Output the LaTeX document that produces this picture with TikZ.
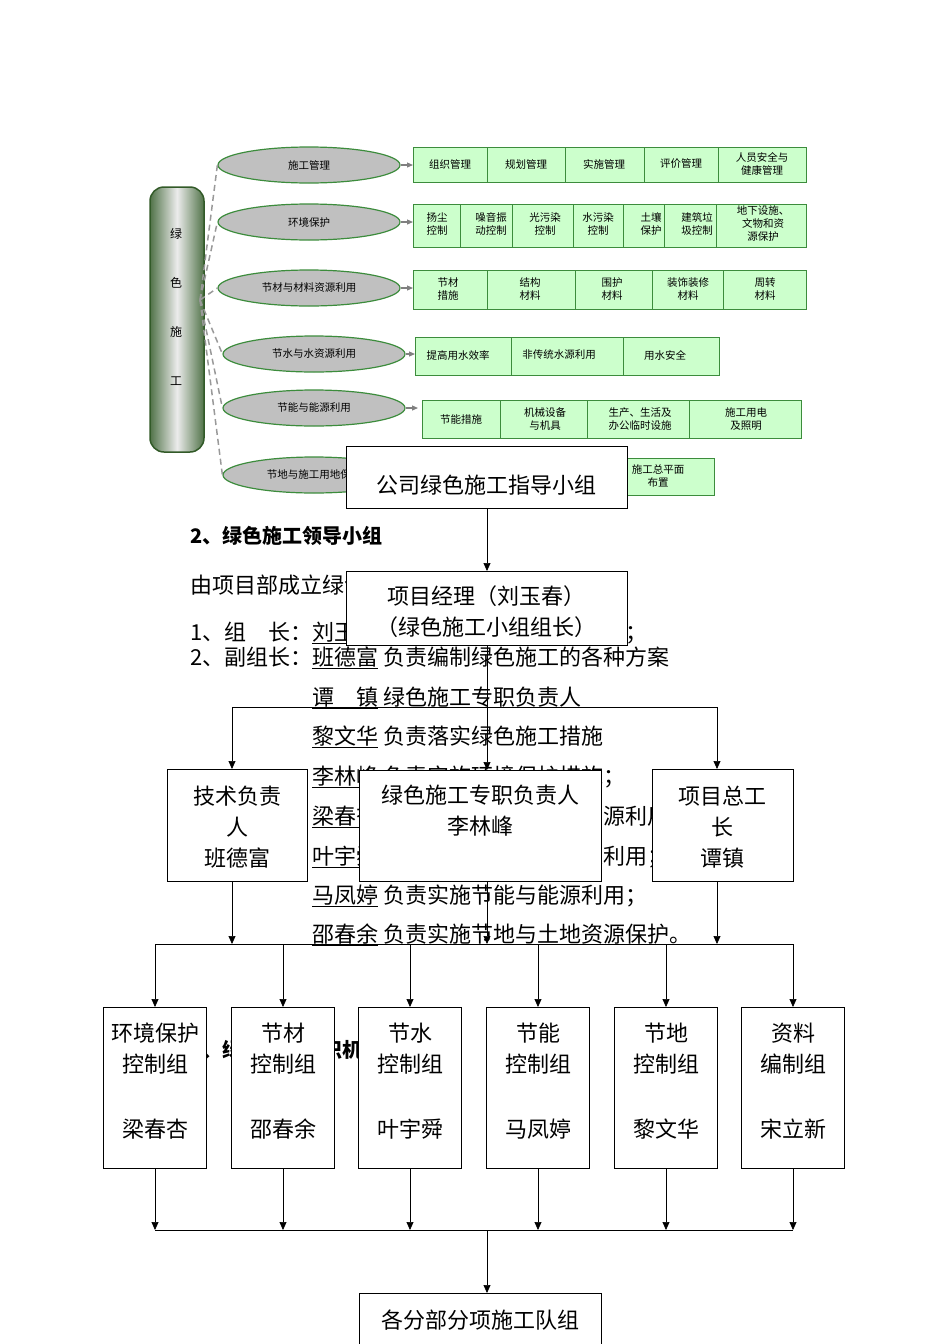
\documentclass[tikz,border=0pt]{standalone}
\usepackage{fontspec}
\setmainfont{Noto Sans CJK SC}
\usetikzlibrary{arrows.meta,shapes.geometric}
\definecolor{gbox}{RGB}{204,255,204}
\definecolor{gline}{RGB}{60,140,60}
\definecolor{dk}{RGB}{50,90,40}
\definecolor{ell}{RGB}{192,192,192}
\tikzset{
 sm/.style={font=\fontsize{10.5}{13}\selectfont,align=center,inner sep=0pt},
 big/.style={font=\fontsize{22}{31}\selectfont,align=center,inner sep=0pt},
 para/.style={font=\fontsize{22}{24}\selectfont,anchor=west,inner sep=0pt},
 wbox/.style={draw=black,fill=white,line width=0.8pt},
 gb/.style={draw=gline,fill=gbox,line width=0.8pt},
 el/.style={ellipse,draw=gline,fill=ell,line width=1.2pt,minimum width=182pt,minimum height=36pt,font=\fontsize{10.5}{12}\selectfont,inner sep=0pt},
 arr/.style={-{Triangle[length=8pt,width=7pt]},line width=0.7pt},
 garr/.style={-{Triangle[length=6pt,width=5pt]},draw=gray,line width=1.2pt},
 dsh/.style={draw=gray!80,line width=1.5pt,dash pattern=on 6pt off 4pt},
}
\begin{document}
\begin{tikzpicture}[x=1pt,y=-1pt]
\useasboundingbox (0,0) rectangle (950,1344);
% ===== top part =====
\shade[draw=dk,line width=1.5pt,rounded corners=14pt,left color=dk!85,right color=dk!85,middle color=white!85!gray] (150,187) rectangle (204,452);
\foreach \y/\t in {234/绿,283/色,332/施,381/工}
  \node[sm,font=\fontsize{12}{14}\selectfont] at (176,\y) {\t};
\coordinate (pc) at (200,300);
\foreach \n/\x/\y/\t in {e1/309/165/施工管理, e2/309/222/环境保护, e3/309/288/节材与材料资源利用, e4/314/354/节水与水资源利用, e5/314/408/节能与能源利用, e6/314/475/节地与施工用地保护}{
  \node[el] (\n) at (\x,\y) {\t};
  \draw[dsh] (pc) -- (\n.west);
}
\draw[gb] (413,147) rectangle (806,182);
\foreach \x in {487,565,644,718} \draw[gline,line width=0.8pt] (\x,147)--(\x,182);
\node[sm] at (450,164) {组织管理};
\node[sm] at (526,164) {规划管理};
\node[sm] at (604,164) {实施管理};
\node[sm] at (681,164) {评价管理};
\node[sm] at (762,164) {人员安全与\\健康管理};
\draw[gb] (413,204) rectangle (806,247);
\foreach \x in {460,512,573,623,664,716} \draw[gline,line width=0.8pt] (\x,204)--(\x,247);
\node[sm] at (437,224) {扬尘\\控制};
\node[sm] at (491,224) {噪音振\\动控制};
\node[sm] at (545,224) {光污染\\控制};
\node[sm] at (598,224) {水污染\\控制};
\node[sm] at (651,224) {土壤\\保护};
\node[sm] at (697,224) {建筑垃\\圾控制};
\node[sm] at (763,224) {地下设施、\\文物和资\\源保护};
\draw[gb] (413,270) rectangle (806,309);
\foreach \x in {487,575,652,723} \draw[gline,line width=0.8pt] (\x,270)--(\x,309);
\node[sm] at (448,289) {节材\\措施};
\node[sm] at (530,289) {结构\\材料};
\node[sm] at (612,289) {围护\\材料};
\node[sm] at (688,289) {装饰装修\\材料};
\node[sm] at (765,289) {周转\\材料};
\draw[gb] (415,337) rectangle (719,375);
\foreach \x in {511,623} \draw[gline,line width=0.8pt] (\x,337)--(\x,375);
\node[sm] at (458,355) {提高用水效率};
\node[sm] at (559,355) {非传统水源利用};
\node[sm] at (665,355) {用水安全};
\draw[gb] (422,400) rectangle (801,438);
\foreach \x in {500,587,689} \draw[gline,line width=0.8pt] (\x,400)--(\x,438);
\node[sm] at (461,419) {节能措施};
\node[sm] at (545,419) {机械设备\\与机具};
\node[sm] at (640,419) {生产、生活及\\办公临时设施};
\node[sm] at (746,419) {施工用电\\及照明};
\draw[gb] (560,458) rectangle (714,495);
\node[sm] at (658,476) {施工总平面\\布置};
\coordinate (r1) at (413,165); \coordinate (r2) at (413,222); \coordinate (r3) at (413,288);
\coordinate (r4) at (415,354); \coordinate (r5) at (418,408);
\draw[garr] (e1.east) -- (r1);
\draw[garr] (e2.east) -- (r2);
\draw[garr] (e3.east) -- (r3);
\draw[garr] (e4.east) -- (r4);
\draw[garr] (e5.east) -- (r5);
% ===== background text =====
\node[para,font=\fontsize{20}{22}\selectfont\bfseries] at (190,536) {2、绿色施工领导小组};
\node[para] at (190,585) {由项目部成立绿色施工领导小组};
\node[para] at (190,633) {1、组\hspace{1em}长：\underline{刘玉春}\ 负责绿色施工的全面工作；};
\node[para] at (190,658) {2、副组长：\underline{班德富}\ 负责编制绿色施工的各种方案};
\node[para] at (312,698) {\underline{谭\hspace{1em}镇}\ 绿色施工专职负责人};
\node[para] at (312,737) {\underline{黎文华}\ 负责落实绿色施工措施};
\node[para] at (312,777) {\underline{李林峰}\ 负责实施环境保护措施；};
\node[para] at (312,817) {\underline{梁春杏}\ 负责实施节材与材料资源利用；};
\node[para] at (312,857) {\underline{叶宇舜}\ 负责实施节水与水资源利用；};
\node[para] at (312,896) {\underline{马凤婷}\ 负责实施节能与能源利用；};
\node[para] at (312,935) {\underline{邵春余}\ 负责实施节地与土地资源保护。};
\node[para,font=\fontsize{20}{22}\selectfont\bfseries] at (190,1050) {3、绿色施工组织机构};
% ===== org chart =====
\draw[wbox] (346,446) rectangle (627,508);
\node[big] (co) at (486.5,485) {公司绿色施工指导小组};
\coordinate (coB) at (487,508);
\draw[wbox] (346,571) rectangle (627,645);
\node[big] (pm) at (486.5,612) {项目经理（刘玉春）\\（绿色施工小组组长）};
\coordinate (pmT) at (487,571); \coordinate (pmB) at (487,645);
\draw[arr] (coB) -- (pmT);
\coordinate (hl) at (232,707); \coordinate (hr) at (717,707);
\draw[wbox] (167,769) rectangle (307,881);
\node[big] (tech) at (237,827) {技术负责\\人\\班德富};
\draw[wbox] (359,770) rectangle (601,881);
\node[big] (zz) at (480,811) {绿色施工专职负责人\\李林峰};
\draw[wbox] (652,769) rectangle (793,881);
\node[big] (zg) at (722,827) {项目总工\\长\\谭镇};
\draw[line width=0.7pt] (hl) -- (hr);
\draw[arr] (hl) -- (232,769);
\draw[arr] (hr) -- (717,769);
\draw[arr] (pmB) -- (487,770);
\coordinate (bl) at (155,944); \coordinate (br) at (793,944);
\draw[line width=0.7pt] (bl) -- (br);
\draw[arr] (232,881) -- (232,944);
\draw[arr] (487,881) -- (487,944);
\draw[arr] (717,881) -- (717,944);
\foreach \n/\x/\a/\b/\c in {g1/155/环境保护/控制组/梁春杏, g2/283/节材/控制组/邵春余, g3/410/节水/控制组/叶宇舜, g4/538/节能/控制组/马凤婷, g5/666/节地/控制组/黎文华, g6/793/资料/编制组/宋立新}{
  \draw[wbox] (\x-51.5,1007) rectangle (\x+51.5,1168);
  \node[big] (\n) at (\x,1049) {\a\\\b};
  \node[big] at (\x,1129) {\c};
  \draw[arr] (\x,944) -- (\x,1007);
  \draw[arr] (\x,1168) -- (\x,1230);
}
\draw[line width=0.7pt] (155,1230) -- (793,1230);
\draw[wbox] (359,1293) rectangle (601,1344);
\node[big] (team) at (480,1320) {各分部分项施工队组};
\draw[arr] (487,1230) -- (487,1293);
\end{tikzpicture}
\end{document}
